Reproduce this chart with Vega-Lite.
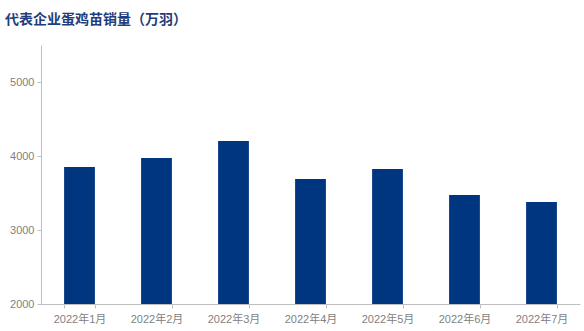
{
  "$schema": "https://vega.github.io/schema/vega-lite/v6.json",
  "autosize": "none",
  "width": 539,
  "height": 259,
  "padding": {"left": 41, "top": 45, "right": 4, "bottom": 27},
  "background": "white",
  "title": {
    "text": "代表企业蛋鸡苗销量（万羽）",
    "anchor": "start",
    "frame": "group",
    "dx": -36,
    "offset": 18,
    "font": "Noto Sans CJK SC",
    "fontSize": 14,
    "fontWeight": "bold",
    "color": "#1f3d7a"
  },
  "data": {
    "values": [
      {"month": "2022年1月", "sales": 3851},
      {"month": "2022年2月", "sales": 3973},
      {"month": "2022年3月", "sales": 4203},
      {"month": "2022年4月", "sales": 3689},
      {"month": "2022年5月", "sales": 3824},
      {"month": "2022年6月", "sales": 3473},
      {"month": "2022年7月", "sales": 3378}
    ]
  },
  "mark": {"type": "bar", "color": "#003580", "clip": true},
  "encoding": {
    "x": {
      "field": "month",
      "type": "nominal",
      "sort": null,
      "scale": {"paddingInner": 0.6, "paddingOuter": 0.3},
      "axis": {
        "title": null,
        "labelAngle": 0,
        "labelFont": "Liberation Sans, Noto Sans CJK SC",
        "labelFontSize": 11,
        "labelColor": "#7f7f7f",
        "labelPadding": 5,
        "domainColor": "#bfbfbf",
        "tickColor": "#bfbfbf",
        "tickBand": "extent",
        "tickSize": 4
      }
    },
    "y": {
      "field": "sales",
      "type": "quantitative",
      "scale": {"domain": [2000, 5500], "zero": false, "nice": false},
      "axis": {
        "title": null,
        "values": [2000, 3000, 4000, 5000],
        "format": "d",
        "grid": false,
        "labelFont": "Liberation Sans",
        "labelFontSize": 11,
        "labelColor": "#7f7f7f",
        "domainColor": "#bfbfbf",
        "tickColor": "#bfbfbf",
        "tickSize": 4,
        "labelPadding": 3
      }
    }
  },
  "config": {"view": {"stroke": null}}
}
